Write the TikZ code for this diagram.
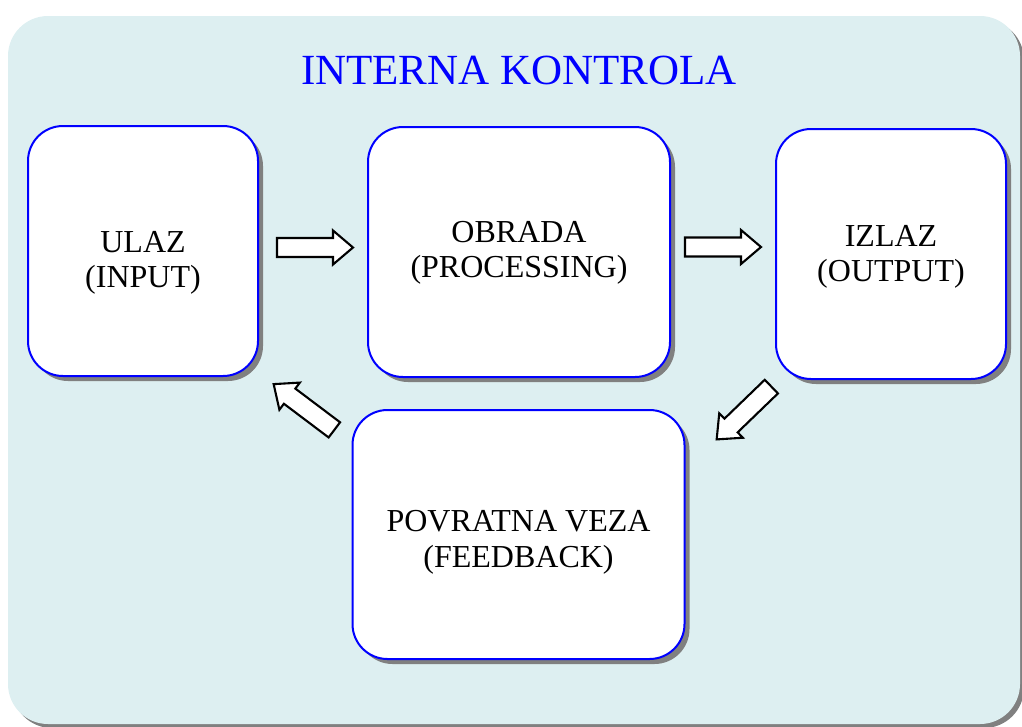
\documentclass[tikz,border=0pt]{standalone}
\usepackage{fontspec}
\setmainfont{Liberation Serif}
\usetikzlibrary{shadows,calc}
\definecolor{bgblue}{HTML}{DDEFF1}
\tikzset{
  box/.style={draw=blue, line width=2pt, fill=white, rounded corners=35pt,
    inner sep=0pt,
    drop shadow={shadow xshift=5pt, shadow yshift=-5pt, fill=gray, opacity=1}},
  boxtext/.style={align=center, inner sep=0pt, font=\fontsize{32}{35.5}\selectfont},
  barrow/.pic={\draw[fill=white, line width=2.1pt, line join=miter]
     (-38,-9.5) -- (18,-9.5) -- (18,-17) -- (38,0) -- (18,17) -- (18,9.5) -- (-38,9.5) -- cycle;}
}
\begin{document}
\begin{tikzpicture}[x=1pt,y=-1pt]
\useasboundingbox (0,0) rectangle (1022,726);
\path[fill=bgblue, rounded corners=40pt,
  drop shadow={shadow xshift=4pt, shadow yshift=-4pt, fill=gray, opacity=1}]
  (8,16) rectangle (1020,724);
\node[anchor=base, text=blue, font=\fontsize{43}{50}\selectfont] (title) at (519,84) {INTERNA KONTROLA};
\node[box, minimum width=230pt, minimum height=250pt] (ulaz) at (143,251) {};
\node[box, minimum width=302pt, minimum height=250pt] (obrada) at (519,252) {};
\node[box, minimum width=230pt, minimum height=250pt] (izlaz) at (891,254) {};
\node[box, minimum width=332pt, minimum height=249pt] (feedback) at (518.5,534.5) {};
\node[boxtext] (ulazt) at ($(ulaz.center)+(0,12)$) {ULAZ\\(INPUT)};
\node[boxtext] (obradat) at ($(obrada.center)+(0,1)$) {OBRADA\\(PROCESSING)};
\node[boxtext] (izlazt) at ($(izlaz.center)+(0,3)$) {IZLAZ\\(OUTPUT)};
\node[boxtext] (feedbackt) at ($(feedback.center)+(0,8)$) {POVRATNA VEZA\\(FEEDBACK)};
\pic at ($(ulaz.east)!0.5!(obrada.west)+(2,-4)$) {barrow};
\pic at ($(obrada.east)!0.5!(izlaz.west)+(0,-6)$) {barrow};
\pic[rotate=-136] at (744,413) {barrow};
\pic[rotate=143] at (304,407) {barrow};
\end{tikzpicture}
\end{document}
